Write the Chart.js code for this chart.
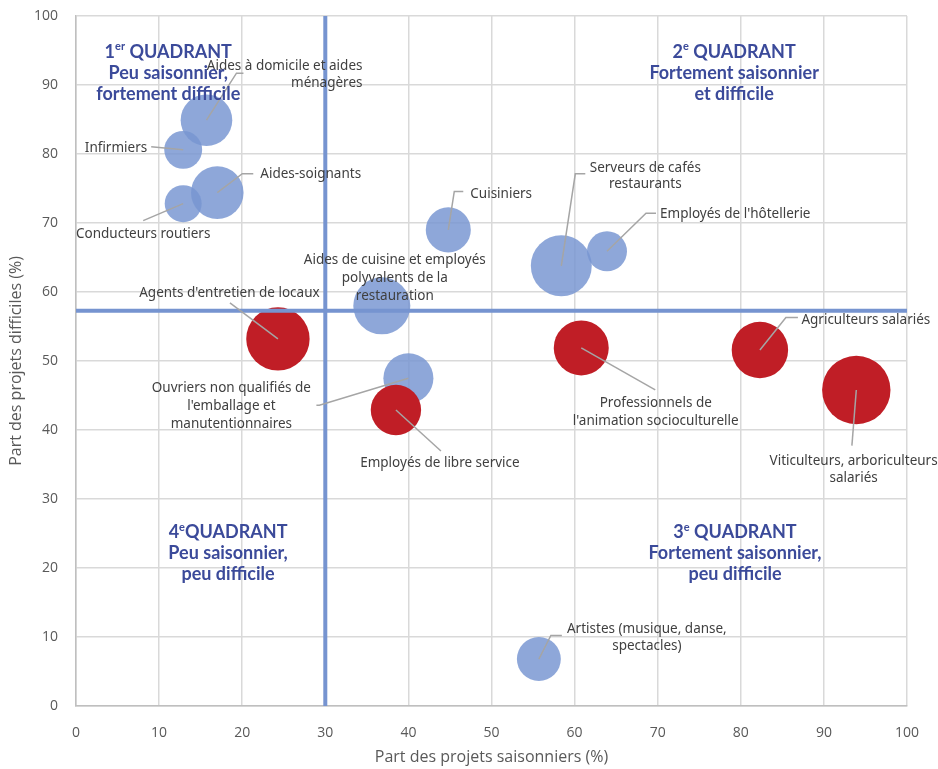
<!DOCTYPE html>
<html lang="fr">
<head>
<meta charset="utf-8">
<title>Projets saisonniers et difficultés de recrutement</title>
<script src="https://cdn.jsdelivr.net/npm/chart.js@4.4.1/dist/chart.umd.min.js"></script>
<style>
  html, body { margin: 0; padding: 0; background: #fff; }
  #wrap { width: 938px; height: 769px; }
</style>
</head>
<body>
<div id="wrap"><canvas id="bulles"></canvas></div>
<script>
// données
const metiers = [
    "Aides à domicile et aides ménagères",
    "Infirmiers",
    "Aides-soignants",
    "Conducteurs routiers",
    "Cuisiniers",
    "Serveurs de cafés restaurants",
    "Employés de l'hôtellerie",
    "Aides de cuisine et employés polyvalents de la restauration",
    "Agents d'entretien de locaux",
    "Ouvriers non qualifiés de l'emballage et manutentionnaires",
    "Employés de libre service",
    "Professionnels de l'animation socioculturelle",
    "Agriculteurs salariés",
    "Viticulteurs, arboriculteurs salariés",
    "Artistes (musique, danse, spectacles)"
];
const saisonniers = [15.7, 12.9, 17.0, 12.9, 44.8, 58.4, 63.9, 36.8, 24.3, 40.0, 38.5, 60.8, 82.3, 93.9, 55.7];
const difficiles = [84.9, 80.6, 74.4, 72.8, 69.0, 63.8, 65.9, 58.0, 53.2, 47.5, 42.9, 51.9, 51.6, 45.8, 6.8];
// volume de projets (estimé, en milliers) -> taille des bulles
const projets = [18.5, 10.0, 19.2, 9.5, 14.1, 25.8, 11.1, 22.6, 27.9, 17.4, 17.6, 21.0, 22.1, 32.5, 13.4];
// 1 = bulle rouge
const enRouge = [0, 0, 0, 0, 0, 0, 0, 0, 1, 0, 1, 1, 1, 1, 0];
const seuilSaisonnier = 30;
const seuilDifficile = 57.3;

// habillage : étiquettes (décalages en px depuis le centre de la bulle)
const etiquettes = [
    { lignes: ["Aides à domicile et aides", "ménagères"], dx: 156, dy: -54, lh: 17.3, align: "right", guide: [[30, -47], [37, -47]] },
    { lignes: ["Infirmiers"], dx: -36, dy: -2, align: "right", guide: [[-32, -3]] },
    { lignes: ["Aides-soignants"], dx: 43, dy: -18, align: "left", guide: [[25, -19], [36, -19]] },
    { lignes: ["Conducteurs routiers"], dx: -40, dy: 30, align: "center", guide: [[-40, 17]] },
    { lignes: ["Cuisiniers"], dx: 22, dy: -36, align: "left", guide: [[6, -38.5], [15, -38.5]] },
    { lignes: ["Serveurs de cafés", "restaurants"], dx: 84, dy: -98, lh: 16.6, align: "center", guide: [[14, -92], [24, -92]] },
    { lignes: ["Employés de l'hôtellerie"], dx: 53, dy: -37, align: "left", guide: [[39, -38], [49, -38]] },
    { lignes: ["Aides de cuisine et employés", "polyvalents de la", "restauration"], dx: 13, dy: -45.7, lh: 17.8, align: "center", guide: [] },
    { lignes: ["Agents d'entretien de locaux"], dx: -48.5, dy: -45.6, align: "center", guide: [[-48, -36]] },
    { lignes: ["Ouvriers non qualifiés de", "l'emballage et", "manutentionnaires"], dx: -177, dy: 10, lh: 18, align: "center", guide: [[-89, 27], [-92, 27]] },
    { lignes: ["Employés de libre service"], dx: 44, dy: 53.4, align: "center", guide: [[45, 41]] },
    { lignes: ["Professionnels de", "l'animation socioculturelle"], dx: 74.5, dy: 55.6, lh: 17.4, align: "center", guide: [[74, 42]] },
    { lignes: ["Agriculteurs salariés"], dx: 41.5, dy: -30, align: "left", guide: [[26, -32.5], [38, -32.5]] },
    { lignes: ["Viticulteurs, arboriculteurs", "salariés"], dx: -2.7, dy: 70.7, lh: 17.3, align: "center", guide: [[-4.4, 55.7]] },
    { lignes: ["Artistes (musique, danse,", "spectacles)"], dx: 108, dy: -30.4, lh: 17.4, align: "center", guide: [[12, -23.7], [23, -23.7]] }
];

const quadrants = [
    { num: "1", sup: "er", espace: true, lignes: ["Peu saisonnier,", "fortement difficile"], x: 11.1, y: 94.8 },
    { num: "2", sup: "e", espace: true, lignes: ["Fortement saisonnier", "et difficile"], x: 79.2, y: 94.8 },
    { num: "4", sup: "e", espace: false, lignes: ["Peu saisonnier,", "peu difficile"], x: 18.3, y: 25.2 },
    { num: "3", sup: "e", espace: true, lignes: ["Fortement saisonnier,", "peu difficile"], x: 79.3, y: 25.2 }
];

const bleu = 'rgba(120, 150, 210, 0.84)';
const rouge = 'rgb(192, 30, 38)';
const texte = '#404040';
const bleuTitre = '#3b4a9a';

function points(rouges) {
    let pts = [];
    metiers.forEach((m, i) => {
        if (enRouge[i] === rouges) {
            pts.push({ x: saisonniers[i], y: difficiles[i], r: 6 * Math.sqrt(projets[i]), nom: m });
        }
    });
    return pts;
}

const habillage = {
    id: 'habillage',
    afterDatasetsDraw(chart) {
        const ctx = chart.ctx;
        const ca = chart.chartArea;
        const sx = chart.scales.x, sy = chart.scales.y;
        ctx.save();

        // lignes des quadrants
        ctx.strokeStyle = 'rgb(118, 148, 208)';
        ctx.lineWidth = 4;
        const px = sx.getPixelForValue(seuilSaisonnier);
        const py = sy.getPixelForValue(seuilDifficile);
        ctx.beginPath();
        ctx.moveTo(px, ca.top);
        ctx.lineTo(px, ca.bottom);
        ctx.moveTo(ca.left, py);
        ctx.lineTo(ca.right, py);
        ctx.stroke();

        // traits de rappel
        ctx.strokeStyle = '#a5a5a5';
        ctx.lineWidth = 1.5;
        etiquettes.forEach((e, i) => {
            if (!e.guide.length) return;
            const cx = sx.getPixelForValue(saisonniers[i]);
            const cy = sy.getPixelForValue(difficiles[i]);
            ctx.beginPath();
            ctx.moveTo(cx, cy);
            e.guide.forEach(p => ctx.lineTo(cx + p[0], cy + p[1]));
            ctx.stroke();
        });

        // étiquettes
        ctx.fillStyle = texte;
        ctx.font = '13.5px "Noto Sans"';
        ctx.textBaseline = 'middle';
        etiquettes.forEach((e, i) => {
            const cx = sx.getPixelForValue(saisonniers[i]);
            const cy = sy.getPixelForValue(difficiles[i]);
            ctx.textAlign = e.align;
            e.lignes.forEach((l, k) => {
                ctx.fillText(l, cx + e.dx, cy + e.dy + k * (e.lh || 17));
            });
        });

        // titres des quadrants
        ctx.fillStyle = bleuTitre;
        quadrants.forEach(q => {
            const qx = sx.getPixelForValue(q.x);
            const qy = sy.getPixelForValue(q.y);
            const big = 'bold 18px Lato', small = 'bold 11px Lato';
            const reste = (q.espace ? ' ' : '') + 'QUADRANT';
            ctx.font = big;
            const w1 = ctx.measureText(q.num).width, w3 = ctx.measureText(reste).width;
            ctx.font = small;
            const w2 = ctx.measureText(q.sup).width;
            let x0 = qx - (w1 + w2 + w3) / 2;
            ctx.textAlign = 'left';
            ctx.font = big;
            ctx.fillText(q.num, x0, qy);
            ctx.font = small;
            ctx.fillText(q.sup, x0 + w1, qy - 5);
            ctx.font = big;
            ctx.fillText(reste, x0 + w1 + w2, qy);
            ctx.textAlign = 'center';
            q.lignes.forEach((l, k) => ctx.fillText(l, qx, qy + 21 * (k + 1)));
        });
        ctx.restore();
    }
};

const grille = { color: '#d9d9d9', lineWidth: 1.5, drawTicks: false };

new Chart(document.getElementById('bulles'), {
    type: 'bubble',
    data: {
        datasets: [
            { label: 'rouge', data: points(1), backgroundColor: rouge, borderWidth: 0, hoverRadius: 0 },
            { label: 'bleu', data: points(0), backgroundColor: bleu, borderWidth: 0, hoverRadius: 0 }
        ]
    },
    options: {
        responsive: true,
        maintainAspectRatio: false,
        animation: false,
        layout: { autoPadding: false, padding: { left: 0, top: 16, right: 31, bottom: 0 } },
        plugins: {
            legend: { display: false },
            tooltip: { enabled: false }
        },
        scales: {
            x: {
                type: 'linear',
                min: 0,
                max: 100,
                ticks: { stepSize: 10, padding: 19, color: '#595959', font: { family: 'Open Sans', size: 14 } },
                grid: grille,
                border: { color: '#bfbfbf', width: 1.5 },
                title: { display: true, text: 'Part des projets saisonniers (%)', color: '#595959',
                    font: { family: 'Open Sans', size: 16 }, padding: { top: 4, bottom: 2 } },
                afterFit: s => { s.height = 63; }
            },
            y: {
                type: 'linear',
                min: 0,
                max: 100,
                ticks: { stepSize: 10, padding: 18, color: '#595959', font: { family: 'Open Sans', size: 14 } },
                grid: grille,
                border: { color: '#bfbfbf', width: 1.5 },
                title: { display: true, text: 'Part des projets difficiles (%)', color: '#595959',
                    font: { family: 'Open Sans', size: 16 }, padding: { top: 7, bottom: 4 } },
                afterFit: s => { s.width = 76; s.paddingTop = 0; s.paddingBottom = 0; }
            }
        }
    },
    plugins: [habillage]
});
</script>
</body>
</html>
